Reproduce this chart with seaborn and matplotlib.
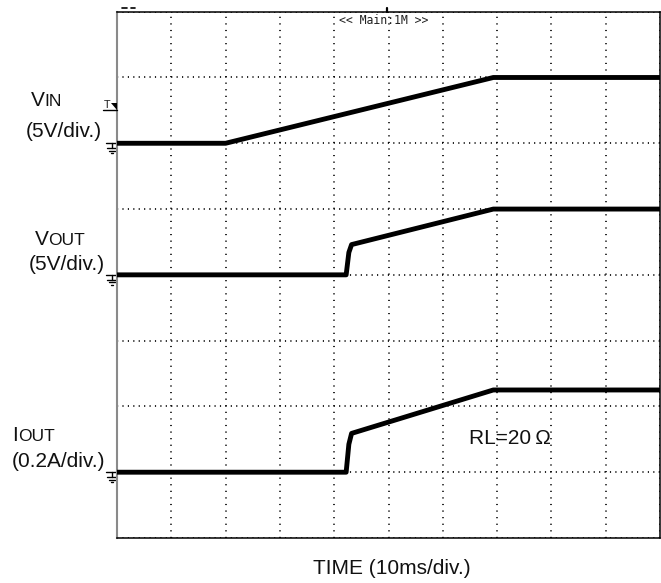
"""
Arranque de un regulador: VIN, VOUT e IOUT (captura de osciloscopio).
"""
import matplotlib
matplotlib.use("Agg")
import matplotlib.pyplot as plt
import seaborn as sns

# ============================
# Datos
# ============================
# tiempo en ms (10 ms/div)
time_vin_ms = [0, 20.0, 69.3, 100]
vin_v = [0, 0, 5.0, 5.0]

time_out_ms = [0, 42.2, 42.7, 43.2, 69.3, 100]
vout_v = [0, 0, 1.7, 2.3, 5.0, 5.0]
iout_a = [0, 0, 0.085, 0.118, 0.25, 0.25]

channel_scales = ["(5V/div.)", "(5V/div.)", "(0.2A/div.)"]
time_label = "TIME (10ms/div.)"
load_label = "RL=20\u2009Ω"
scope_banner = "<< Main:1M >>"

# ============================
# Estilo
# ============================
W, H = 661, 583
sns.set_theme(style="white")
plt.rcParams["font.family"] = ["Liberation Sans", "DejaVu Sans"]

# escala (unidades/div) y posición de tierra (div) de cada canal
VOLT_DIV, VIN_GND = 5.0, 6.0
VOUT_GND = 4.0
AMP_DIV, IOUT_GND = 0.2, 1.0

fig = plt.figure(figsize=(W / 100, H / 100), dpi=100)
AX_L, AX_R, AX_T, AX_B = 117, 660, 11.7, 538
ax = fig.add_axes([AX_L / W, 1 - AX_B / H, (AX_R - AX_L) / W, (AX_B - AX_T) / H])
ax.set_xlim(0, 100)
ax.set_ylim(0, 8)
MS_PER_PX = 100 / (AX_R - AX_L)
DIV_PER_PX = 8 / (AX_B - AX_T)

# retícula punteada del osciloscopio
ax.set_xticks(range(0, 101, 10))
ax.set_yticks(range(0, 9))
ax.tick_params(left=False, bottom=False, labelleft=False, labelbottom=False)
ax.grid(axis="x", color="black", lw=1.2, linestyle=(0, (0.7, 3.25)))
ax.grid(axis="y", color="black", lw=1.2, linestyle=(0, (0.7, 2.55)))

for side in ("top", "right", "bottom"):
    ax.spines[side].set_color("black")
    ax.spines[side].set_linewidth(1.1)
ax.spines["left"].set_color("#8a8a8a")
ax.spines["left"].set_linewidth(1.5)

# ============================
# Trazas
# ============================
traces = [
    (time_vin_ms, [VIN_GND + v / VOLT_DIV for v in vin_v]),
    (time_out_ms, [VOUT_GND + v / VOLT_DIV for v in vout_v]),
    (time_out_ms, [IOUT_GND + a / AMP_DIV for a in iout_a]),
]
for t, y in traces:
    sns.lineplot(x=t, y=y, ax=ax, color="black", lw=3.5, estimator=None,
                 sort=False, solid_capstyle="butt", zorder=3)


# marcadores de tierra a la izquierda
def ground_marker(g):
    def P(px_x, px_y):
        return (px_x - AX_L) * MS_PER_PX, g - px_y * DIV_PER_PX
    segs = [((106, 0), (116, 0)), ((111.5, 0), (111.5, 5)), ((107, 5), (116, 5)),
            ((108.5, 7.5), (114.5, 7.5)), ((110.5, 10), (112.5, 10))]
    for a, b in segs:
        xa, ya = P(*a)
        xb, yb = P(*b)
        ax.plot([xa, xb], [ya, yb], color="black", lw=1.0, clip_on=False)


for g in (VIN_GND, VOUT_GND, IOUT_GND):
    ground_marker(g)

# marcador de disparo (T) y marcas superiores
ov = fig.add_axes([0, 0, 1, 1], facecolor="none")
ov.set_xlim(0, W)
ov.set_ylim(H, 0)
ov.axis("off")
ov.plot([103, 117], [110, 110], color="black", lw=1.0)
ov.fill([110.5, 116.5, 116.5], [103, 103, 110], color="black", lw=0)
ov.text(107.5, 108, "T", fontsize=8, family="DejaVu Sans Mono", ha="center",
        va="baseline")
ov.plot([122, 127], [8.3, 8.3], color="black", lw=1.2)
ov.plot([131, 135], [8.3, 8.3], color="black", lw=1.2)
ov.plot([387, 387], [8, 11.5], color="black", lw=1.6)


# ============================
# Textos
# ============================
def px_text(x, y, s, size=15, ha="left", **kw):
    fig.text(x / W, 1 - y / H, s, fontsize=size, va="baseline", ha=ha,
             color="#111111", **kw)


# nombres de canal en versalitas
px_text(31, 105.7, "V")
px_text(44.5, 105.7, "IN", size=12.5)
px_text(26, 137, channel_scales[0])
px_text(35, 245, "V")
px_text(48.5, 245, "OUT", size=12.5)
px_text(28.5, 270, channel_scales[1])
px_text(12.5, 441, "I")
px_text(18, 441, "OUT", size=12.5)
px_text(12, 466.7, channel_scales[2])

px_text(391.5, 574, time_label, ha="center")
px_text(469, 444, load_label)
fig.text(384 / W, 1 - 24 / H, scope_banner, fontsize=8.3,
         family="DejaVu Sans Mono", ha="center", va="baseline", color="#222222")

fig.savefig("out.png", dpi=100)
